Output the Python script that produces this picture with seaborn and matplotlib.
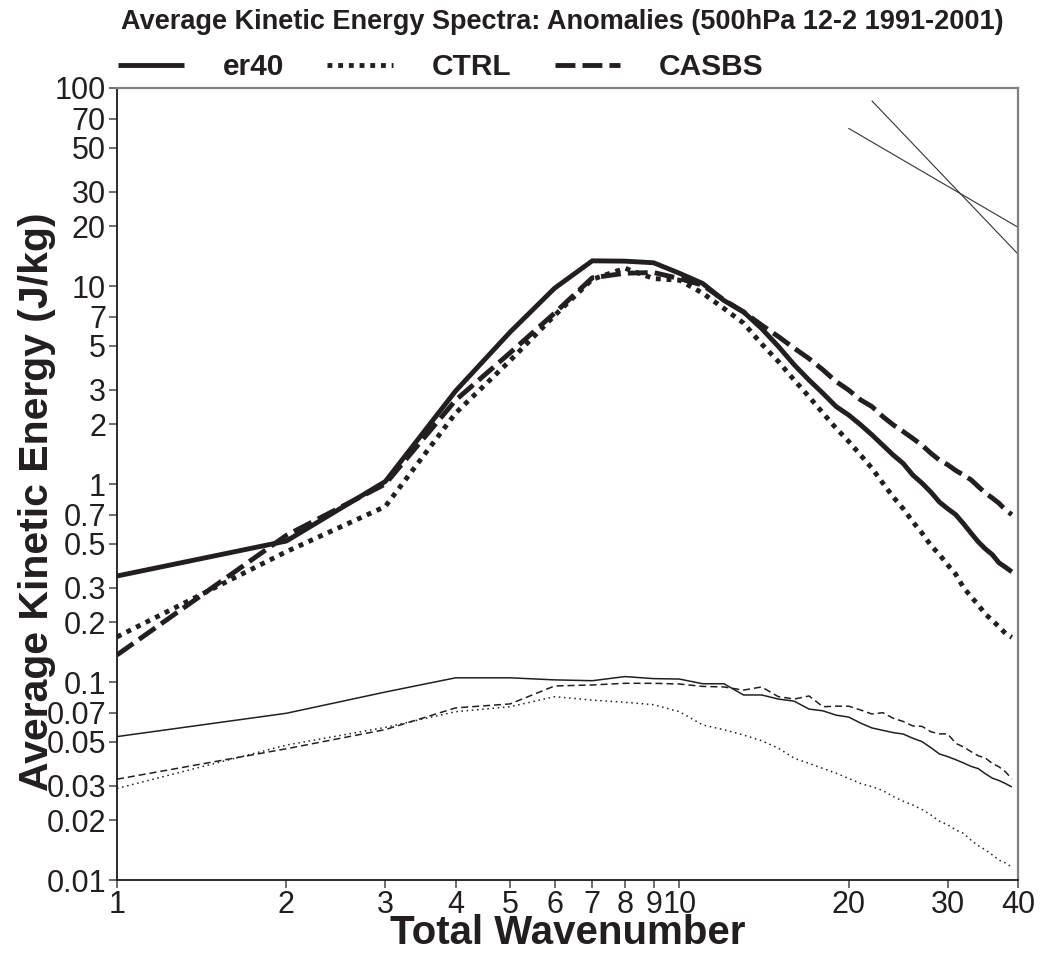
import numpy as np
import pandas as pd
import matplotlib
matplotlib.use("Agg")
import matplotlib.pyplot as plt
from matplotlib.ticker import FixedLocator, FixedFormatter, NullFormatter
import seaborn as sns

# ---------------- data ----------------
wavenumber = list(range(1, 40))

er40 = [0.343, 0.515, 1.03, 2.95, 5.85, 9.75, 13.4, 13.35, 13.1, 11.6,
        10.3, 8.45, 7.4, 6.1, 4.95, 4.0, 3.35, 2.87, 2.46, 2.23,
        1.99, 1.77, 1.57, 1.40, 1.27, 1.11, 1.01, 0.91, 0.81, 0.75,
        0.70, 0.63, 0.565, 0.51, 0.47, 0.44, 0.40, 0.38, 0.36]

ctrl = [0.169, 0.455, 0.77, 2.28, 4.2, 7.1, 10.8, 12.3, 10.9, 10.7,
        9.2, 7.7, 6.5, 5.1, 4.15, 3.35, 2.76, 2.28, 1.91, 1.64,
        1.40, 1.20, 1.01, 0.86, 0.75, 0.645, 0.565, 0.49, 0.44, 0.39,
        0.35, 0.30, 0.27, 0.245, 0.22, 0.205, 0.19, 0.176, 0.168]

casbs = [0.137, 0.55, 1.0, 2.65, 4.6, 7.3, 11.0, 11.6, 11.7, 10.9,
         10.1, 8.5, 7.4, 6.35, 5.55, 4.85, 4.3, 3.77, 3.29, 2.98,
         2.66, 2.46, 2.19, 1.99, 1.84, 1.70, 1.57, 1.43, 1.32, 1.25,
         1.17, 1.11, 1.05, 0.97, 0.90, 0.85, 0.80, 0.74, 0.70]

er40_thin = [0.053, 0.0695, 0.089, 0.105, 0.105, 0.1025, 0.1015, 0.1065, 0.104, 0.1035,
             0.098, 0.098, 0.086, 0.086, 0.082, 0.080, 0.073, 0.0715, 0.068, 0.0665,
             0.062, 0.0586, 0.057, 0.0555, 0.0546, 0.052, 0.050, 0.0466, 0.0433, 0.042,
             0.0405, 0.039, 0.0375, 0.0365, 0.0344, 0.0327, 0.0318, 0.0307, 0.0295]

casbs_thin = [0.0323, 0.046, 0.0575, 0.074, 0.0775, 0.0955, 0.0966, 0.0985, 0.0985, 0.0977,
              0.095, 0.0944, 0.091, 0.0944, 0.0843, 0.082, 0.085, 0.075, 0.0755, 0.0755,
              0.0722, 0.0689, 0.070, 0.0656, 0.0632, 0.060, 0.0597, 0.0561, 0.0547, 0.0547,
              0.049, 0.047, 0.0445, 0.0424, 0.0413, 0.0388, 0.0373, 0.0352, 0.0324]

ctrl_thin = [0.029, 0.048, 0.059, 0.0708, 0.075, 0.0843, 0.081, 0.079, 0.0768, 0.0708,
             0.0607, 0.0574, 0.054, 0.0505, 0.0463, 0.0412, 0.0388, 0.0366, 0.0346, 0.0326,
             0.0307, 0.0296, 0.0283, 0.0264, 0.025, 0.0239, 0.0227, 0.0213, 0.0198, 0.019,
             0.0179, 0.0172, 0.0159, 0.0149, 0.0142, 0.0134, 0.0126, 0.0122, 0.0116]

# reference slopes (k^-3 and k^-5/3)
ref3_x = [22, 40]
ref3_y = [86.0, 14.5]
ref53_x = [20, 40]
ref53_y = [62.5, 19.8]

xtick_vals = [1, 2, 3, 4, 5, 6, 7, 8, 9, 10, 20, 30, 40]
xtick_labels = ["1", "2", "3", "4", "5", "6", "7", "8", "9", "10", "20", "30", "40"]
ytick_vals = [0.01, 0.02, 0.03, 0.05, 0.07, 0.1, 0.2, 0.3, 0.5, 0.7,
              1, 2, 3, 5, 7, 10, 20, 30, 50, 70, 100]
ytick_labels = ["0.01", "0.02", "0.03", "0.05", "0.07", "0.1", "0.2", "0.3", "0.5", "0.7",
                "1", "2", "3", "5", "7", "10", "20", "30", "50", "70", "100"]
yminor_vals = [0.04, 0.06, 0.08, 0.09, 0.4, 0.6, 0.8, 0.9, 4, 6, 8, 9, 40, 60, 80, 90]

title = "Average Kinetic Energy Spectra: Anomalies (500hPa 12-2 1991-2001)"
xlabel = "Total Wavenumber"
ylabel = "Average Kinetic Energy (J/kg)"
legend_names = ["er40", "CTRL", "CASBS"]

# ---------------- style ----------------
sns.set_style("white")
plt.rcParams["font.family"] = ["Liberation Sans", "DejaVu Sans"]

LC = "#231f20"
TC = "#231f20"
fig = plt.figure(figsize=(10.40, 9.55), dpi=100)
ax = fig.add_axes([117/1040, 1 - 880/955, (1018 - 117)/1040, (880 - 88)/955])

df = pd.DataFrame({"k": wavenumber, "er40": er40, "ctrl": ctrl, "casbs": casbs,
                   "er40_thin": er40_thin, "ctrl_thin": ctrl_thin, "casbs_thin": casbs_thin})

thick = 3.5
thin = 1.1
styles = {
    "er40": dict(linewidth=thick, linestyle="-"),
    "ctrl": dict(linewidth=thick, linestyle=(0, (1.0, 1.2))),
    "casbs": dict(linewidth=thick, linestyle=(0, (4.1, 1.45))),
    "er40_thin": dict(linewidth=thin, linestyle="-"),
    "ctrl_thin": dict(linewidth=thin, linestyle=(0, (1.0, 2.4))),
    "casbs_thin": dict(linewidth=thin, linestyle=(0, (4.6, 2.6))),
}
handles = []
for col in ["er40", "ctrl", "casbs", "er40_thin", "ctrl_thin", "casbs_thin"]:
    sns.lineplot(data=df, x="k", y=col, ax=ax, color=LC, solid_capstyle="butt",
                 dash_capstyle="butt", **styles[col])
    handles.append(ax.lines[-1])

ref_df3 = pd.DataFrame({"k": ref3_x, "e": ref3_y})
ref_df53 = pd.DataFrame({"k": ref53_x, "e": ref53_y})
sns.lineplot(data=ref_df3, x="k", y="e", ax=ax, color="#333333", linewidth=0.8)
sns.lineplot(data=ref_df53, x="k", y="e", ax=ax, color="#333333", linewidth=0.8)

ax.set_xscale("log")
ax.set_yscale("log")
ax.set_xlim(1, 40)
ax.set_ylim(0.01, 100)

ax.xaxis.set_major_locator(FixedLocator(xtick_vals))
ax.xaxis.set_major_formatter(FixedFormatter(xtick_labels))
ax.xaxis.set_minor_locator(FixedLocator([]))
ax.xaxis.set_minor_formatter(NullFormatter())
ax.yaxis.set_major_locator(FixedLocator(ytick_vals))
ax.yaxis.set_major_formatter(FixedFormatter(ytick_labels))
ax.yaxis.set_minor_locator(FixedLocator(yminor_vals))
ax.yaxis.set_minor_formatter(NullFormatter())

ax.tick_params(axis="both", which="both", direction="out", color="#555555", width=1.2,
               labelcolor=TC)
ax.tick_params(axis="y", which="both", length=6, pad=2, labelsize=22)
ax.tick_params(axis="x", which="major", length=6, pad=1, labelsize=22)
ax.tick_params(left=True, bottom=True)

for s in ["top", "right"]:
    ax.spines[s].set_color("#808080")
    ax.spines[s].set_linewidth(1.6)
for s in ["left", "bottom"]:
    ax.spines[s].set_color("#1a1a1a")
    ax.spines[s].set_linewidth(1.3)

ax.set_xlabel(xlabel, fontsize=29, fontweight="bold", color=TC)
ax.set_ylabel(ylabel, fontsize=29.5, fontweight="bold", color=TC)
ax.xaxis.set_label_coords(0.5, -0.043)
ax.yaxis.set_label_coords(-0.068, 0.477)

fig.text(0.5 * (122 + 1003) / 1040, 1 - 22/955, title, fontsize=19.5, fontweight="bold",
         ha="center", va="center", color=TC)

leg = fig.legend(handles[:3], legend_names, loc="center left", ncol=3,
                 bbox_to_anchor=(118/1040, 1 - 67/955), frameon=False,
                 prop={"weight": "bold", "size": 21.5}, handlelength=2.2,
                 handletextpad=1.3, columnspacing=1.45, borderaxespad=0, borderpad=0)
for t in leg.get_texts():
    t.set_color(TC)

fig.savefig("out.png", dpi=100, facecolor="white")
